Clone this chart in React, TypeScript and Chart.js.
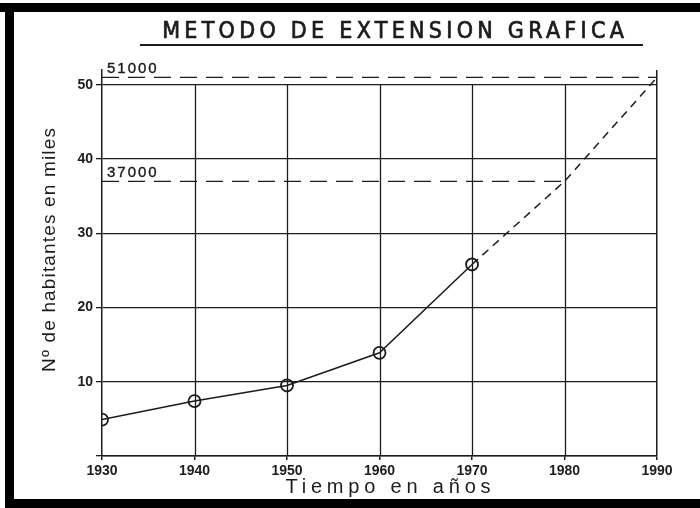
import { useEffect, useRef } from "react";
import { Chart, registerables } from "chart.js";
Chart.register(...registerables);

const chartTitle = "METODO DE EXTENSION GRAFICA";
const xTitle = "Tiempo en años";
const yTitle = "Nº de habitantes en miles";
const years = [1930, 1940, 1950, 1960, 1970];
const population = [4.9, 7.4, 9.5, 13.9, 25.8];
const projYears = [1970, 1980, 1990];
const projection = [25.8, 37, 51];
const refValues = [51, 37];
const refEndYears = [1990, 1980];
const refLabels = ["51000", "37000"];
const yTickValues = [0, 10, 20, 30, 40, 50];

const INK = "#1c1c1c";

function fitText(ctx: CanvasRenderingContext2D, text: string, cx: number, cy: number, width: number, font: string, rot = 0, stroke = 0) {
  ctx.save();
  ctx.font = font;
  (ctx as any).letterSpacing = "0px";
  const w = ctx.measureText(text).width;
  const ls = Math.max(0, (width - w) / text.length);
  (ctx as any).letterSpacing = ls + "px";
  ctx.translate(cx, cy);
  ctx.rotate(rot);
  ctx.textAlign = "center";
  ctx.textBaseline = "middle";
  ctx.fillStyle = INK;
  ctx.fillText(text, ls / 2, 0);
  if (stroke > 0) {
    ctx.strokeStyle = INK;
    ctx.lineWidth = stroke;
    ctx.strokeText(text, ls / 2, 0);
  }
  ctx.restore();
}

const decor = {
  id: "decor",
  beforeDraw(chart: any) {
    const ctx = chart.ctx as CanvasRenderingContext2D;
    ctx.save();
    ctx.fillStyle = "#ffffff";
    ctx.fillRect(0, 0, chart.width, chart.height);
    ctx.fillStyle = "#000000";
    ctx.fillRect(0, 3, chart.width, 9);
    ctx.fillRect(5, 3, 9, chart.height - 3);
    ctx.fillRect(5, 499, chart.width - 5, chart.height - 499);
    ctx.restore();
  },
  beforeDatasetsDraw(chart: any) {
    const ctx = chart.ctx as CanvasRenderingContext2D;
    const xs = chart.scales.x;
    const ys = chart.scales.y;
    ctx.save();
    ctx.strokeStyle = INK;
    ctx.lineWidth = 1.3;
    for (const t of xs.ticks) {
      if (t.value <= xs.min || t.value >= xs.max) continue;
      const px = Math.round(xs.getPixelForValue(t.value)) + 0.5;
      ctx.beginPath();
      ctx.moveTo(px, ys.getPixelForValue(0));
      ctx.lineTo(px, ys.getPixelForValue(50));
      ctx.stroke();
    }
    ctx.restore();
  },
  afterDraw(chart: any) {
    const ctx = chart.ctx as CanvasRenderingContext2D;
    const xs = chart.scales.x;
    const ys = chart.scales.y;
    // title
    fitText(ctx, chartTitle, 393, 32, 466, "23px 'DejaVu Sans Condensed'", 0, 0.7);
    ctx.save();
    ctx.strokeStyle = INK;
    ctx.lineWidth = 1.8;
    ctx.beginPath();
    ctx.moveTo(140, 45);
    ctx.lineTo(643, 45);
    ctx.stroke();
    ctx.restore();
    // axis titles
    fitText(ctx, xTitle, 388, 487, 210, "20px 'Liberation Sans'");
    fitText(ctx, yTitle, 50, 250, 245, "19px 'Liberation Sans'", -Math.PI / 2);
    // reference labels
    refValues.forEach((v, i) => {
      const py = ys.getPixelForValue(v);
      const x0 = xs.getPixelForValue(xs.min) + 5;
      ctx.save();
      ctx.font = "15px 'Liberation Sans'";
      (ctx as any).letterSpacing = "2px";
      ctx.fillStyle = INK;
      ctx.strokeStyle = INK;
      ctx.lineWidth = 0.4;
      ctx.textAlign = "left";
      ctx.textBaseline = "alphabetic";
      ctx.fillText(refLabels[i], x0, py - 4);
      ctx.strokeText(refLabels[i], x0, py - 4);
      ctx.restore();
    });
  },
};

export default function App() {
  const ref = useRef<HTMLCanvasElement>(null);
  useEffect(() => {
    if (!ref.current) return;
    const chart = new Chart(ref.current, {
      type: "line",
      data: {
        datasets: [
          {
            data: years.map((y, i) => ({ x: y, y: population[i] })),
            borderColor: INK,
            borderWidth: 1.5,
            pointRadius: 6,
            pointBorderWidth: 1.8,
            pointBackgroundColor: "rgba(0,0,0,0)",
            pointBorderColor: INK,
            tension: 0,
          },
          {
            data: projYears.map((y, i) => ({ x: y, y: projection[i] })),
            borderColor: INK,
            borderWidth: 1.5,
            borderDash: [8, 6],
            pointRadius: 0,
            tension: 0,
          },
          ...refValues.map((v, i) => ({
            data: [
              { x: 1930, y: v },
              { x: refEndYears[i], y: v },
            ],
            borderColor: INK,
            borderWidth: 1.4,
            borderDash: [17, 9],
            pointRadius: 0,
          })),
        ],
      },
      options: {
        animation: false,
        responsive: false,
        layout: { padding: { top: 70, right: 43, bottom: 0, left: 0 } },
        plugins: { legend: { display: false }, title: { display: false }, tooltip: { enabled: false } },
        scales: {
          x: {
            type: "linear",
            min: 1930,
            max: 1990,
            afterFit: (s: any) => {
              s.height = 52;
            },
            ticks: {
              stepSize: 10,
              color: INK,
              padding: 3,
              font: { family: "'Liberation Sans'", size: 14, weight: "bold" },
              callback: (v: any) => String(v),
              maxRotation: 0,
            },
            grid: {
              color: (c: any) => (c.tick && c.tick.value === 1990 ? INK : "rgba(0,0,0,0)"),
              lineWidth: 1.5,
              tickColor: INK,
              tickLength: 4,
            },
            border: { display: true, color: INK, width: 1.5 },
          },
          y: {
            type: "linear",
            min: 0,
            max: 52,
            afterFit: (s: any) => {
              s.width = 102;
            },
            afterBuildTicks: (s: any) => {
              s.ticks = yTickValues.map((v) => ({ value: v }));
            },
            ticks: {
              color: INK,
              padding: 3,
              font: { family: "'Liberation Sans'", size: 14, weight: "bold" },
              callback: (v: any) => (v === 0 ? "" : String(v)),
            },
            grid: { color: INK, lineWidth: 1.3, tickColor: INK, tickLength: 6 },
            border: { display: true, color: INK, width: 1.5 },
          },
        },
      },
      plugins: [decor],
    } as any);
    return () => chart.destroy();
  }, []);
  return (
    <div style={{ position: "absolute", left: 0, top: 0, width: 700, height: 508 }}>
      <canvas ref={ref} width={700} height={508} style={{ display: "block" }} />
    </div>
  );
}
